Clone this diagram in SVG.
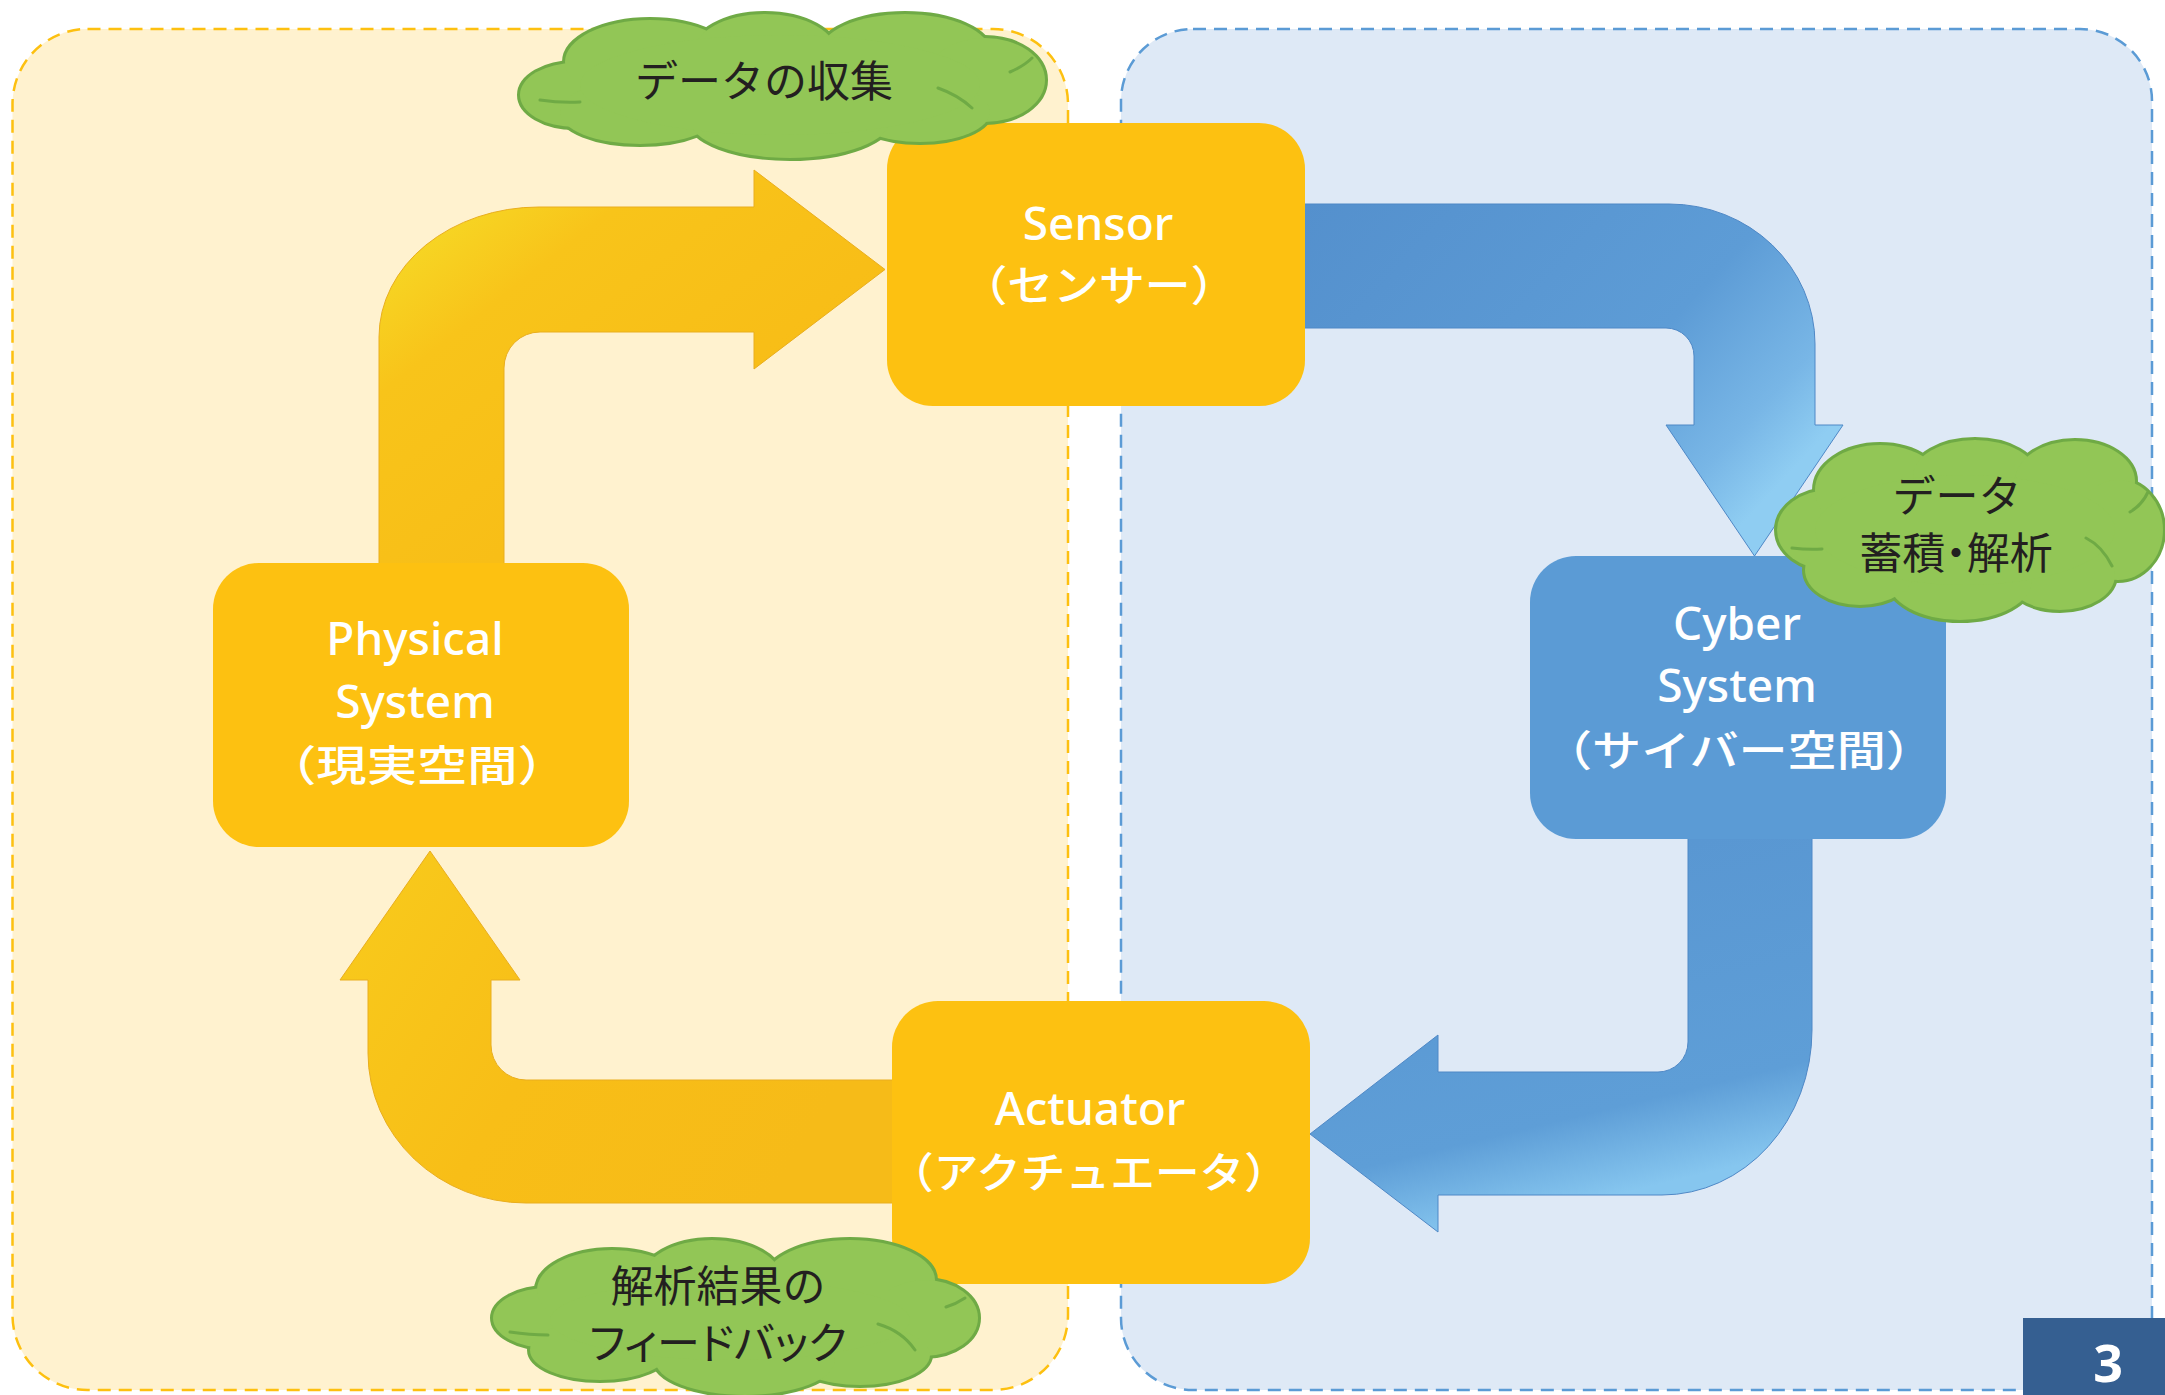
<svg xmlns="http://www.w3.org/2000/svg" width="2165" height="1395" viewBox="0 0 2165 1395">
  <style>
    .panel-phys { fill: #FFF2CF; stroke: #FDC010; stroke-width: 2.5; stroke-dasharray: 13 8; }
    .panel-cyber { fill: #DEE9F6; stroke: #5B9BD5; stroke-width: 2.5; stroke-dasharray: 13 8; }
    .box-y { fill: #FDC111; }
    .box-b { fill: #5B9BD5; }
    .lat { font-family: "Noto Sans", "Noto Sans CJK JP", sans-serif; font-size: 46px; font-weight: 500; fill: #FFFFFF; text-anchor: middle; }
    .jp { font-family: "Noto Sans CJK JP", sans-serif; font-size: 42px; font-weight: 500; fill: #FFFFFF; text-anchor: middle; }
    .cloud-edge { fill: none; stroke: #6FAA45; stroke-width: 6; }
    .cloud-fill { fill: #92C656; }
    .cloud-line { fill: none; stroke: #6FAA45; stroke-width: 3; stroke-linecap: round; }
    .ctext { font-family: "Noto Sans CJK JP", sans-serif; font-size: 43px; fill: #231F20; text-anchor: middle; }
    .palt { font-feature-settings: "palt"; }
    .page { fill: #355F91; }
    .pnum { font-family: "Noto Sans", "DejaVu Sans", sans-serif; font-weight: bold; font-size: 52px; fill: #FFFFFF; text-anchor: middle; }
  </style>
  <defs>
    <linearGradient id="gY1" x1="0" y1="0" x2="1" y2="1">
      <stop offset="0" stop-color="#F5E42C"/>
      <stop offset="0.28" stop-color="#F8C41A"/>
      <stop offset="0.6" stop-color="#F8BE17"/>
      <stop offset="1" stop-color="#F5BA18"/>
    </linearGradient>
    <linearGradient id="gY2" x1="0" y1="0" x2="1" y2="0.4">
      <stop offset="0" stop-color="#F4E630"/>
      <stop offset="0.12" stop-color="#F8C81B"/>
      <stop offset="0.5" stop-color="#F8BE17"/>
      <stop offset="1" stop-color="#F6BB18"/>
    </linearGradient>
    <linearGradient id="gB1" x1="0" y1="0" x2="1" y2="0.6">
      <stop offset="0" stop-color="#5490CD"/>
      <stop offset="0.65" stop-color="#5D9CD6"/>
      <stop offset="0.88" stop-color="#78B6E6"/>
      <stop offset="1" stop-color="#8FCDF2"/>
    </linearGradient>
    <linearGradient id="gB2" x1="0" y1="0" x2="0.3" y2="1">
      <stop offset="0" stop-color="#5794D0"/>
      <stop offset="0.8" stop-color="#5E9ED7"/>
      <stop offset="1" stop-color="#86C6EF"/>
    </linearGradient>

    <!-- cloud outlines built from overlapping ellipses -->
    <g id="cloud1-shape">
      <ellipse cx="575" cy="95" rx="55" ry="32"/>
      <ellipse cx="650" cy="62" rx="85" ry="42"/>
      <ellipse cx="765" cy="54" rx="72" ry="40"/>
      <ellipse cx="905" cy="52" rx="85" ry="38"/>
      <ellipse cx="985" cy="80" rx="60" ry="42"/>
      <ellipse cx="920" cy="112" rx="70" ry="30"/>
      <ellipse cx="790" cy="120" rx="100" ry="38"/>
      <ellipse cx="640" cy="112" rx="80" ry="32"/>
      <ellipse cx="780" cy="85" rx="200" ry="50"/>
    </g>
    <g id="cloud2-shape">
      <ellipse cx="1830" cy="530" rx="53" ry="40"/>
      <ellipse cx="1880" cy="490" rx="65" ry="45"/>
      <ellipse cx="1975" cy="476" rx="62" ry="36"/>
      <ellipse cx="2075" cy="481" rx="60" ry="40"/>
      <ellipse cx="2118" cy="530" rx="45" ry="50"/>
      <ellipse cx="2060" cy="575" rx="55" ry="35"/>
      <ellipse cx="1960" cy="580" rx="72" ry="40"/>
      <ellipse cx="1860" cy="570" rx="55" ry="35"/>
      <ellipse cx="1965" cy="530" rx="150" ry="55"/>
    </g>
    <g id="cloud3-shape">
      <ellipse cx="548" cy="1318" rx="55" ry="30"/>
      <ellipse cx="612" cy="1290" rx="75" ry="40"/>
      <ellipse cx="712" cy="1280" rx="70" ry="40"/>
      <ellipse cx="850" cy="1280" rx="85" ry="40"/>
      <ellipse cx="925" cy="1318" rx="53" ry="38"/>
      <ellipse cx="860" cy="1355" rx="70" ry="30"/>
      <ellipse cx="745" cy="1360" rx="90" ry="35"/>
      <ellipse cx="600" cy="1350" rx="70" ry="30"/>
      <ellipse cx="730" cy="1320" rx="180" ry="40"/>
    </g>
  </defs>

  <!-- background areas -->
  <g id="physical-space">
    <rect class="panel-phys" x="12.5" y="29" width="1055.5" height="1361" rx="75" ry="75"/>
  </g>
  <g id="cyber-space">
    <rect class="panel-cyber" x="1121" y="29" width="1031" height="1361" rx="72" ry="72"/>
  </g>

  <!-- loop arrows -->
  <g id="connectors">
    <path id="arrow-physical-sensor" fill="url(#gY1)" stroke="#E9AE1E" stroke-width="1" d="M379,570 L379,337 A160,130 0 0 1 539,207 L754,207 L754,170 L885,269.5 L754,369 L754,332 L540,332 A36,36 0 0 0 504,368 L504,570 Z"/>
    <path id="arrow-sensor-cyber" fill="url(#gB1)" stroke="#4F88C6" stroke-width="1" d="M1300,204 L1669,204 A146,140 0 0 1 1815,344 L1815,425 L1843,425 L1754.5,556 L1666,425 L1694,425 L1694,356 A28,28 0 0 0 1666,328 L1300,328 Z"/>
    <path id="arrow-cyber-actuator" fill="url(#gB2)" stroke="#4F88C6" stroke-width="1" d="M1688,830 L1812,830 L1812,1030 A150,165 0 0 1 1662,1195 L1438,1195 L1438,1232 L1310,1134 L1438,1035 L1438,1072 L1658,1072 A30,30 0 0 0 1688,1042 Z"/>
    <path id="arrow-actuator-physical" fill="url(#gY2)" stroke="#E9AE1E" stroke-width="1" d="M900,1080 L526,1080 A35,35 0 0 1 491,1045 L491,980 L520,980 L430,851 L340,980 L368,980 L368,1053 A158,150 0 0 0 526,1203 L900,1203 Z"/>
  </g>

  <!-- system nodes -->
  <g id="sensor">
    <rect class="box-y" x="887" y="123" width="418" height="283" rx="46" ry="46"/>
    <text class="lat" x="1098" y="240">Sensor</text>
    <text class="jp" x="1099" y="301" textLength="275" lengthAdjust="spacingAndGlyphs">（センサー）</text>
  </g>
  <g id="physical-system">
    <rect class="box-y" x="213" y="563" width="416" height="284" rx="46" ry="46"/>
    <text class="lat" x="415" y="655">Physical</text>
    <text class="lat" x="415" y="718">System</text>
    <text class="jp" x="417" y="781" textLength="302" lengthAdjust="spacingAndGlyphs">（現実空間）</text>
  </g>
  <g id="cyber-system">
    <rect class="box-b" x="1530" y="556" width="416" height="283" rx="46" ry="46"/>
    <text class="lat" x="1737" y="640">Cyber</text>
    <text class="lat" x="1737" y="702">System</text>
    <text class="jp" x="1739" y="766" textLength="392" lengthAdjust="spacingAndGlyphs">（サイバー空間）</text>
  </g>
  <g id="actuator">
    <rect class="box-y" x="892" y="1001" width="418" height="283" rx="46" ry="46"/>
    <text class="lat" x="1090" y="1125">Actuator</text>
    <text class="jp" x="1089" y="1188" textLength="400" lengthAdjust="spacingAndGlyphs">（アクチュエータ）</text>
  </g>

  <!-- cloud labels -->
  <g id="cloud-collect">
    <use href="#cloud1-shape" class="cloud-edge"/>
    <use href="#cloud1-shape" class="cloud-fill"/>
    <path class="cloud-line" d="M540,100 Q560,103 580,102 M938,88 Q958,95 972,108 M1010,72 Q1024,66 1032,58"/>
    <text class="ctext" x="764" y="97">データの収集</text>
  </g>
  <g id="cloud-analyze">
    <use href="#cloud2-shape" class="cloud-edge"/>
    <use href="#cloud2-shape" class="cloud-fill"/>
    <path class="cloud-line" d="M1792,548 Q1808,550 1822,549 M2112,566 Q2102,546 2086,538 M2148,492 Q2142,505 2130,512"/>
    <text class="ctext" x="1957" y="512">データ</text>
    <text class="ctext palt" x="1956" y="569">蓄積・解析</text>
  </g>
  <g id="cloud-feedback">
    <use href="#cloud3-shape" class="cloud-edge"/>
    <use href="#cloud3-shape" class="cloud-fill"/>
    <path class="cloud-line" d="M510,1332 Q530,1335 548,1335 M915,1350 Q902,1331 878,1324 M965,1298 Q956,1304 946,1307"/>
    <text class="ctext" x="718" y="1302">解析結果の</text>
    <text class="ctext palt" x="718" y="1359">フィードバック</text>
  </g>

  <!-- page number -->
  <g id="page-number">
    <rect class="page" x="2023" y="1318" width="142" height="77"/>
    <text class="pnum" x="2108" y="1382">3</text>
  </g>
</svg>
